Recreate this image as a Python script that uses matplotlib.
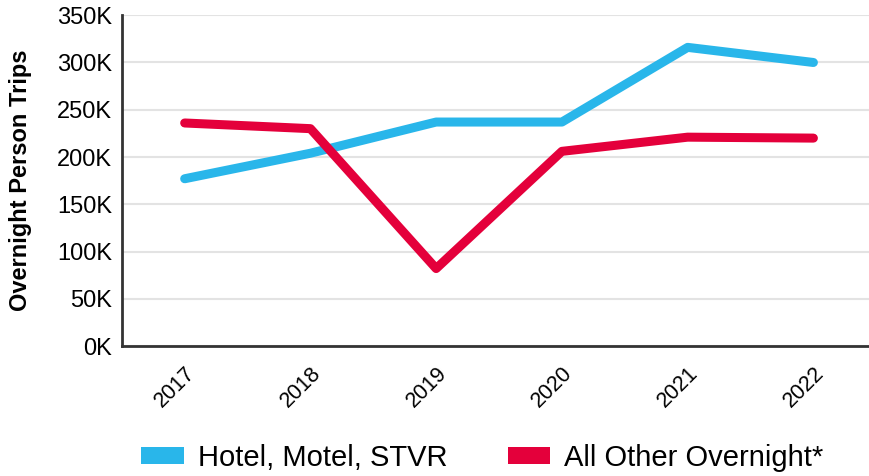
import matplotlib
matplotlib.use("Agg")
import matplotlib.pyplot as plt
import matplotlib.transforms as mtransforms
from matplotlib.patches import Patch
from matplotlib.ticker import FuncFormatter, MultipleLocator

years = ["2017", "2018", "2019", "2020", "2021", "2022"]
hotel = [177, 204, 237, 237, 316, 300]
other = [236, 230, 82, 206, 221, 220]
series_names = ["Hotel, Motel, STVR", "All Other Overnight*"]
colors = ["#29B6EA", "#E4003B"]

plt.rcParams['font.family'] = ['Liberation Sans', 'DejaVu Sans']

fig = plt.figure(figsize=(8.7, 4.76), dpi=100)
ax = fig.add_axes([0.140, 0.273, 0.860, 0.695])

x = list(range(len(years)))
ax.plot(x, hotel, color=colors[0], lw=6.5, solid_capstyle='round', solid_joinstyle='round', zorder=3)
ax.plot(x, other, color=colors[1], lw=6.5, solid_capstyle='round', solid_joinstyle='round', zorder=3)

ax.set_ylim(0, 350)
ax.set_xlim(-0.5, 5.45)
ax.yaxis.set_major_locator(MultipleLocator(50))
ax.yaxis.set_major_formatter(FuncFormatter(lambda v, p: f"{int(v)}K"))
ax.set_xticks(x)
ax.set_xticklabels(years, rotation=45, ha='right', rotation_mode='anchor', fontsize=15.5)
offset = mtransforms.ScaledTranslation(4 / 100, 2 / 100, fig.dpi_scale_trans)
for lbl in ax.get_xticklabels():
    lbl.set_transform(lbl.get_transform() + offset)
ax.tick_params(axis='y', labelsize=17, length=0, pad=7)
ax.tick_params(axis='x', length=0, pad=12)
ax.grid(axis='y', color='#e3e3e3', lw=1.5)
ax.set_axisbelow(True)
for s in ['top', 'right']:
    ax.spines[s].set_visible(False)
for s in ['left', 'bottom']:
    ax.spines[s].set_color('#333333')
    ax.spines[s].set_linewidth(2)

fig.text(21 / 870, 1 - 180 / 476, "Overnight Person Trips", rotation=90,
         ha='center', va='center', fontsize=17, fontweight='bold')

handles = [Patch(facecolor=c, edgecolor='none') for c in colors]
fig.legend(handles, series_names, loc='center', bbox_to_anchor=(0.5546, 0.038), ncol=2,
           frameon=False, fontsize=21, handlelength=1.47, handleheight=0.51,
           columnspacing=2.05, handletextpad=0.48, borderpad=0.1)

fig.savefig("out.png", dpi=100)
